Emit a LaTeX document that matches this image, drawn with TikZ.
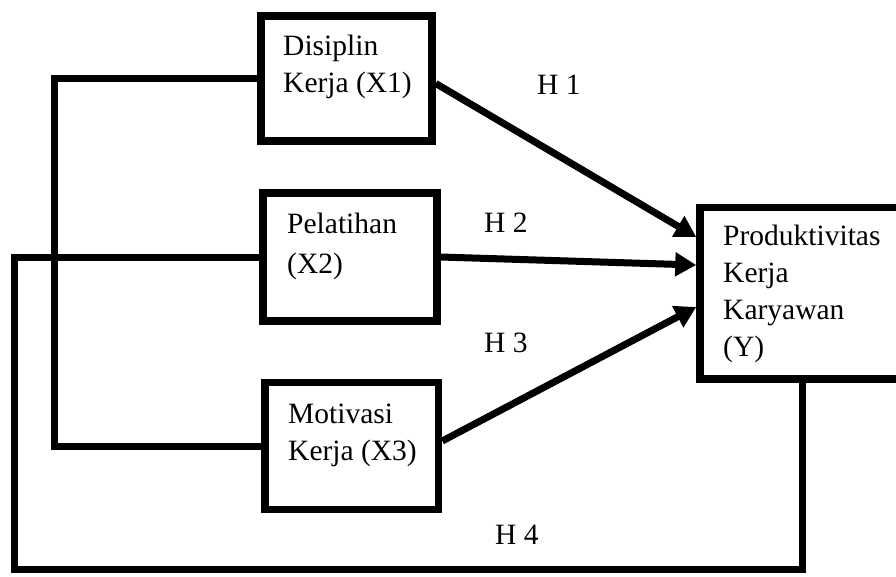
\documentclass[tikz,border=0pt]{standalone}
\usepackage{fontspec}
\setmainfont{Liberation Serif}
\usetikzlibrary{arrows.meta,calc}
\begin{document}
\begin{tikzpicture}[x=1pt,y=-1pt,
  box/.style={draw,line width=7.5pt,minimum width=#1,inner sep=0pt},
  lbl/.style={anchor=base west,inner sep=0pt},
  conn/.style={line width=7pt},
  arr/.style={line width=7pt,-{Triangle[length=21pt,width=23pt]}},
  txt/.style={font=\fontsize{29.5}{37}\selectfont},
]
\clip (0,0) rectangle (896,576);
\fill[white] (0,0) rectangle (896,576);
% boxes
\node[box=171pt,minimum height=125pt] (x1) at (346.5,78.5) {};
\node[box=174pt,minimum height=128pt] (x2) at (350,257) {};
\node[box=173.5pt,minimum height=127pt] (x3) at (351.75,446) {};
\node[box=205pt,minimum height=171.5pt] (y) at (802.5,293) {};
% texts
\node[lbl,txt] (tx1) at (283,55) {\vtop{\hbox{Disiplin}\hbox{Kerja (X1)}}};
\node[lbl,font=\fontsize{29.5}{40}\selectfont] (tx2) at (287,233) {\vtop{\hbox{Pelatihan}\hbox{(X2)}}};
\node[lbl,txt] (tx3) at (288,423) {\vtop{\hbox{Motivasi}\hbox{Kerja (X3)}}};
\node[lbl,txt] (ty) at (723,245) {\vtop{\hbox{Produktivitas}\hbox{Kerja}\hbox{Karyawan}\hbox{(Y)}}};
% hypothesis labels
\node[lbl,txt] (h1) at (537,94) {H 1};
\node[lbl,txt] (h2) at (484,232) {H 2};
\node[lbl,txt] (h3) at (484,352) {H 3};
\node[lbl,txt] (h4) at (495,544) {H 4};
% connectors
\coordinate (l1) at (54,78.5);
\draw[conn] (x1.west) -- (l1) |- (x3.west);
\coordinate (l2) at (14,257);
\coordinate (bot) at (802.5,569.5);
\draw[conn] (x2.west) -- (l2) |- (bot) -- (y.south);
% arrows
\draw[arr] ($(x1.east)+(0,5)$) -- ($(y.west)+(0,-56)$);
\draw[arr] (x2.east) -- ($(y.west)+(0,-28)$);
\draw[arr] ($(x3.east)+(0,-5)$) -- ($(y.west)+(0,14)$);
\end{tikzpicture}
\end{document}
